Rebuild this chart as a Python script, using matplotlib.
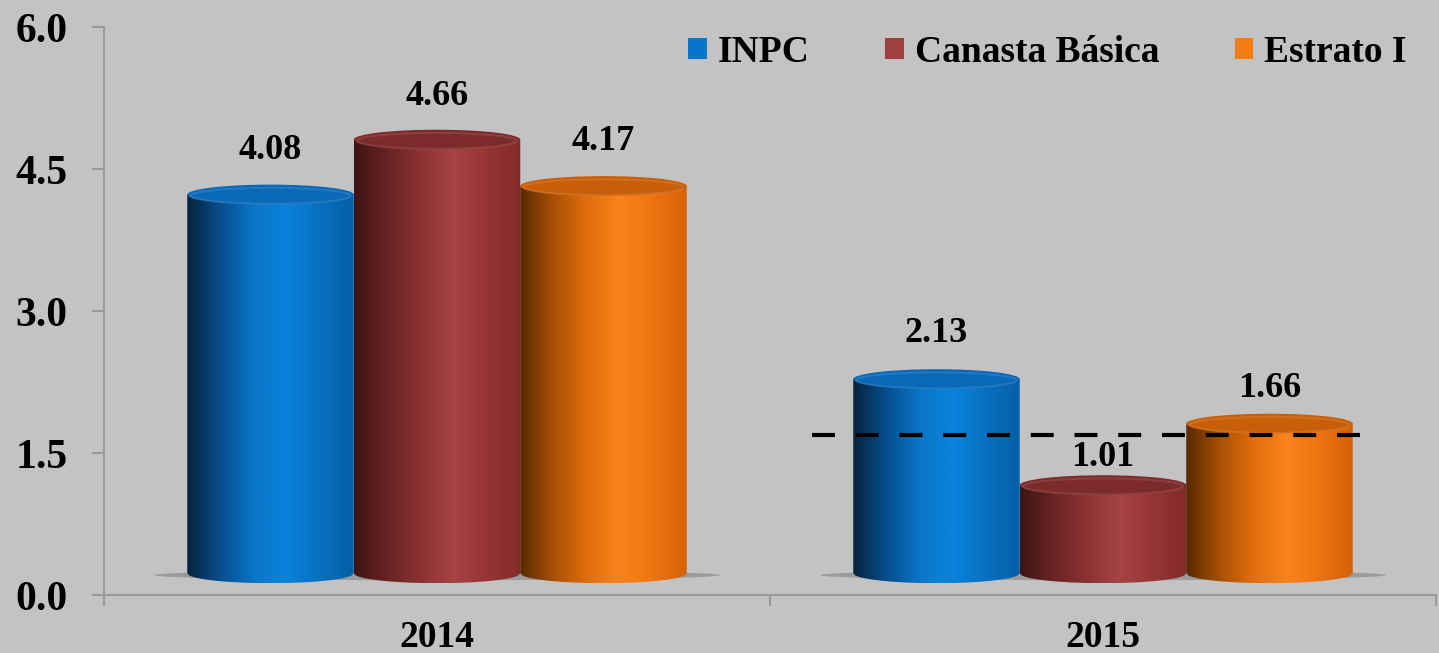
import numpy as np
import matplotlib
matplotlib.use("Agg")
import matplotlib.pyplot as plt
from matplotlib.patches import Ellipse, Patch
from matplotlib.path import Path
from matplotlib.colors import LinearSegmentedColormap

# ---- data ----
categories = ["2014", "2015"]
series = ["INPC", "Canasta Básica", "Estrato I"]
inpc = [4.08, 2.13]
canasta = [4.66, 1.01]
estrato = [4.17, 1.66]
yticks = [0.0, 1.5, 3.0, 4.5, 6.0]
ref_line = 1.69          # dashed reference level in 2015
ref_span = (0.563, 1.389)

values = [inpc, canasta, estrato]

# label vertical offsets above values (layout only)
label_dy = [[0.44, 0.46], [0.43, 0.27], [0.45, 0.35]]

# ---- style ----
bg = "#c3c3c3"
grad = {
    "INPC": ["#06243f", "#074f8e", "#0a76c8", "#0a82dc", "#0870c0", "#0560a6"],
    "Canasta Básica": ["#3e1414", "#6a2424", "#8c3232", "#a64444", "#963434", "#852a2a"],
    "Estrato I": ["#5a2a00", "#a85006", "#e06e0c", "#fa841c", "#ee7412", "#d46208"],
}
topc = {"INPC": "#0a68b8", "Canasta Básica": "#7c2a2a", "Estrato I": "#c85e08"}
legc = {"INPC": "#0a74cc", "Canasta Básica": "#a0403e", "Estrato I": "#f47a12"}

plt.rcParams["font.family"] = ["Liberation Serif", "DejaVu Serif"]
plt.rcParams["font.weight"] = "bold"

fig = plt.figure(figsize=(14.39, 6.53), dpi=100, facecolor=bg)
ax = fig.add_axes([104 / 1439, 1 - 595 / 653, (1436 - 104) / 1439, (595 - 27) / 653])
ax.set_facecolor(bg)
ax.set_xlim(-0.5, 1.5)
ax.set_ylim(0, 6)

bw = 0.25
floor = 0.23
lift = 0.15
eh = 0.21  # ellipse height in data units

x = np.arange(len(categories))
offsets = [-bw, 0, bw]

def cylinder(xc, val, name, z):
    x0, x1 = xc - bw / 2, xc + bw / 2
    top = val + lift
    xs = np.linspace(x0, x1, 80)
    ys = floor - (eh / 2) * np.sqrt(np.clip(1 - ((xs - xc) / (bw / 2)) ** 2, 0, 1))
    verts = list(zip(xs, ys)) + [(x1, top), (x0, top), (x0, ys[0])]
    codes = [Path.MOVETO] + [Path.LINETO] * (len(verts) - 2) + [Path.CLOSEPOLY]
    path = Path(verts, codes)
    cmap = LinearSegmentedColormap.from_list(name, grad[name])
    img = cmap(np.linspace(0, 1, 200))[None, :, :]
    im = ax.imshow(img, extent=[x0, x1, floor - eh / 2, top], aspect="auto",
                   zorder=z, interpolation="bilinear")
    im.set_clip_path(path, transform=ax.transData)
    e = Ellipse((xc, top), bw, eh, facecolor=topc[name], edgecolor="none", zorder=z + 0.1)
    ax.add_patch(e)
    e2 = Ellipse((xc, top - eh * 0.06), bw * 0.96, eh * 0.8, facecolor="none",
                 edgecolor=(1, 1, 1, 0.10), lw=1.5, zorder=z + 0.2)
    ax.add_patch(e2)

# shadows
for xc in x:
    sh = Ellipse((xc, floor - 0.02), 3 * bw + 0.1, 0.11, facecolor="#7a7a7a",
                 alpha=0.55, edgecolor="none", zorder=1)
    ax.add_patch(sh)

for si, name in enumerate(series):
    for ci in range(len(categories)):
        xc = x[ci] + offsets[si]
        v = values[si][ci]
        cylinder(xc, v, name, 2 + si)
        ax.text(xc, v + label_dy[si][ci], f"{v:.2f}", ha="center", va="bottom",
                fontsize=26, fontweight="bold", color="black", zorder=10)

ax.hlines(ref_line, ref_span[0], ref_span[1], colors="black", lw=3,
          linestyles=(0, (5.5, 5.0)), zorder=8)

# axes styling
for s in ["top", "right"]:
    ax.spines[s].set_visible(False)
for s in ["left", "bottom"]:
    ax.spines[s].set_color("#999999")
    ax.spines[s].set_linewidth(1.5)
ax.set_yticks(yticks)
ax.set_yticklabels([f"{v:.1f}" for v in yticks])
ax.tick_params(axis="y", length=9, width=1.5, color="#999999", pad=17,
               labelsize=30)
ax.set_xticks(x)
ax.set_xticklabels(categories)
ax.tick_params(axis="x", which="major", length=0, pad=18, labelsize=27)
ax.set_xticks([-0.5, 0.5, 1.5], minor=True)
ax.tick_params(axis="x", which="minor", length=8, width=1.5, color="#999999")
for lab in ax.get_xticklabels() + ax.get_yticklabels():
    lab.set_fontweight("bold")

handles = [Patch(facecolor=legc[n], edgecolor="none") for n in series]
leg = fig.legend(handles, series, loc="center right",
                 bbox_to_anchor=(1407 / 1439, 1 - 52 / 653), ncol=3, frameon=False,
                 handlelength=0.5, handleheight=0.5, handletextpad=0.3,
                 columnspacing=2.0, borderpad=0, borderaxespad=0,
                 prop={"family": "Liberation Serif", "weight": "bold", "size": 27})

fig.savefig("out.png", dpi=100, facecolor=bg)
